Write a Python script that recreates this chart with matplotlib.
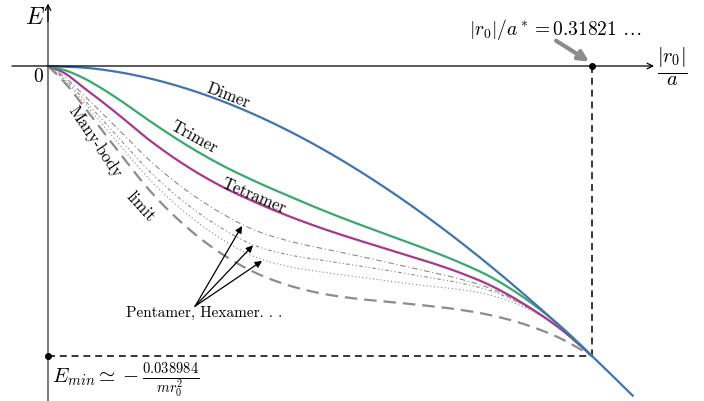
import numpy as np
import matplotlib
matplotlib.use('Agg')
import matplotlib.pyplot as plt

plt.rcParams['mathtext.fontset'] = 'cm'
plt.rcParams['font.family'] = ['cmr10', 'DejaVu Serif']
plt.rcParams['lines.scale_dashes'] = False
plt.rcParams['axes.unicode_minus'] = False

# x = |r0|/a , E in units of 1/(m r0^2)
x_star = 0.31821
e_min = -0.038984

x_dimer = [0, 0.025, 0.05, 0.075, 0.1, 0.125, 0.15, 0.175, 0.2, 0.225, 0.25,
           0.275, 0.3, 0.31821, 0.342]
e_dimer = [0, -0.000305, -0.001191, -0.002620, -0.004555, -0.006966, -0.009825,
           -0.013105, -0.016784, -0.020840, -0.025255, -0.030010, -0.035089,
           -0.038984, -0.04431]

x_grid = [0, 0.01, 0.02, 0.03, 0.04, 0.06, 0.08, 0.10, 0.12, 0.14, 0.16, 0.18,
          0.20, 0.22, 0.24, 0.26, 0.28, 0.30, 0.31821]
e_trimer = [0, -0.000578, -0.001532, -0.002810, -0.004275, -0.007474, -0.010485,
            -0.013134, -0.015378, -0.017395, -0.019330, -0.021118, -0.022812,
            -0.024506, -0.026334, -0.028485, -0.031402, -0.035018, -0.038984]
e_tetramer = [0, -0.001008, -0.002756, -0.004503, -0.006318, -0.010082, -0.013308,
              -0.015997, -0.018188, -0.020110, -0.021804, -0.023310, -0.024735,
              -0.026146, -0.027706, -0.029628, -0.032222, -0.035381, -0.038984]
e_manybody = [0, -0.002285, -0.005149, -0.008160, -0.011131, -0.016871, -0.021441,
              -0.025003, -0.027652, -0.029439, -0.030582, -0.031268, -0.031725,
              -0.032182, -0.032733, -0.033553, -0.034816, -0.036645, -0.038984]
e_pent_a = [0, -0.001519, -0.003710, -0.005969, -0.008240, -0.012797, -0.016561,
            -0.019599, -0.021979, -0.023471, -0.024519, -0.025460, -0.026482,
            -0.027530, -0.028566, -0.030017, -0.032329, -0.035381, -0.038984]
e_pent_b = [0, -0.001801, -0.004234, -0.006775, -0.009302, -0.014290, -0.018349,
            -0.021576, -0.024049, -0.025339, -0.026106, -0.026805, -0.027530,
            -0.028324, -0.029117, -0.030300, -0.032410, -0.035394, -0.038984]
e_pent_c = [0, -0.002003, -0.004624, -0.007353, -0.010069, -0.015378, -0.019653,
            -0.023027, -0.025568, -0.026926, -0.027692, -0.028324, -0.028929,
            -0.029520, -0.030017, -0.030878, -0.032585, -0.035422, -0.038984]


def smooth(x, y, n=400):
    # cubic hermite through the read points
    x = np.asarray(x, float)
    y = np.asarray(y, float)
    m = np.gradient(y, x)
    xs = np.linspace(x[0], x[-1], n)
    i = np.clip(np.searchsorted(x, xs) - 1, 0, len(x) - 2)
    h = x[i + 1] - x[i]
    t = (xs - x[i]) / h
    h00 = 2 * t**3 - 3 * t**2 + 1
    h10 = t**3 - 2 * t**2 + t
    h01 = -2 * t**3 + 3 * t**2
    h11 = t**3 - t**2
    ys = h00 * y[i] + h10 * h * m[i] + h01 * y[i + 1] + h11 * h * m[i + 1]
    return xs, ys


fig = plt.figure(figsize=(7.04, 4.02), dpi=100)
ax = fig.add_axes([0, 0, 1, 1])
ax.set_xlim(-0.028077, 0.383716)
ax.set_ylim(-0.045033, 0.0090066)
ax.axis('off')

# axes
ax.annotate('', xy=(0.3545, 0), xytext=(-0.0211, 0),
            arrowprops=dict(arrowstyle='->', color='black', lw=0.9,
                            shrinkA=0, shrinkB=0, mutation_scale=10))
ax.plot([0, 0], [-0.046, 0.0078], color='#7f7f7f', lw=1.5, zorder=1)
ax.annotate('', xy=(0, 0.0084), xytext=(0, 0.006),
            arrowprops=dict(arrowstyle='->', color='black', lw=0.9,
                            shrinkA=0, shrinkB=0, mutation_scale=10))

# guide lines
ax.plot([x_star, x_star], [0, e_min], color='black', lw=1.1, dashes=(5, 3.5))
ax.plot([0, x_star], [e_min, e_min], color='black', lw=1.1, dashes=(5, 3.5))
ax.plot([x_star, 0], [0, e_min], 'o', color='black', ms=4, zorder=5)

# curves
xs, ys = smooth(x_grid, e_pent_a)
ax.plot(xs, ys, color='#8a8a8a', lw=0.8, dashes=(4, 2, 0.8, 2))
xs, ys = smooth(x_grid, e_pent_b)
ax.plot(xs, ys, color='#8a8a8a', lw=0.8, dashes=(2.5, 1.8, 0.8, 1.8, 0.8, 1.8))
xs, ys = smooth(x_grid, e_pent_c)
ax.plot(xs, ys, color='#8a8a8a', lw=0.8, dashes=(0.8, 1.8))
xs, ys = smooth(x_grid, e_manybody)
ax.plot(xs, ys, color='#8c8c8c', lw=1.6, dashes=(9, 5))
xs, ys = smooth(x_grid, e_tetramer)
ax.plot(xs, ys, color='#a8388c', lw=1.6)
xs, ys = smooth(x_grid, e_trimer)
ax.plot(xs, ys, color='#3aa86e', lw=1.6)
xs, ys = smooth(x_dimer, e_dimer)
ax.plot(xs, ys, color='#3f74b0', lw=1.6)

# labels
ax.text(-0.0076, 0.0066, r'$E$', fontsize=17, ha='center', va='center')
ax.text(-0.0058, -0.0013, '0', fontsize=14, ha='center', va='center')
ax.text(0.3650, 0.0001, r'$\frac{|r_0|}{a}$', fontsize=21, ha='center', va='center')
ax.text(0.2966, 0.0050, r'$|r_0|/a^* = 0.31821\ \ldots$', fontsize=14,
        ha='center', va='center')
ax.annotate('', xy=(0.3165, 0.0006), xytext=(0.2972, 0.0034),
            arrowprops=dict(arrowstyle='-|>', color='#8c8c8c', lw=3,
                            shrinkA=0, shrinkB=0, mutation_scale=15))
ax.text(0.0023, -0.03955, r'$E_{min} \simeq -\frac{0.038984}{m r_0^2}$',
        fontsize=15, ha='left', va='top')

ax.text(0.1053, -0.0039, 'Dimer', fontsize=12, rotation=-21, ha='center', va='center')
ax.text(0.0854, -0.0095, 'Trimer', fontsize=12, rotation=-29, ha='center', va='center')
ax.text(0.1205, -0.0173, 'Tetramer', fontsize=12, rotation=-23, ha='center', va='center')
ax.text(0.0275, -0.0101, 'Many-body', fontsize=12, rotation=-56, ha='center', va='center')
ax.text(0.0538, -0.0188, 'limit', fontsize=12, rotation=-48, ha='center', va='center')

ax.text(0.0913, -0.0331, 'Pentamer, Hexamer. . .', fontsize=11, ha='center', va='center')
for tip in [(0.1135, -0.0215), (0.1199, -0.0241), (0.1252, -0.0262)]:
    ax.annotate('', xy=tip, xytext=(0.0860, -0.0323),
                arrowprops=dict(arrowstyle='-|>', color='black', lw=0.9,
                                shrinkA=0, shrinkB=0, mutation_scale=10))

fig.savefig('out.png', dpi=100)
